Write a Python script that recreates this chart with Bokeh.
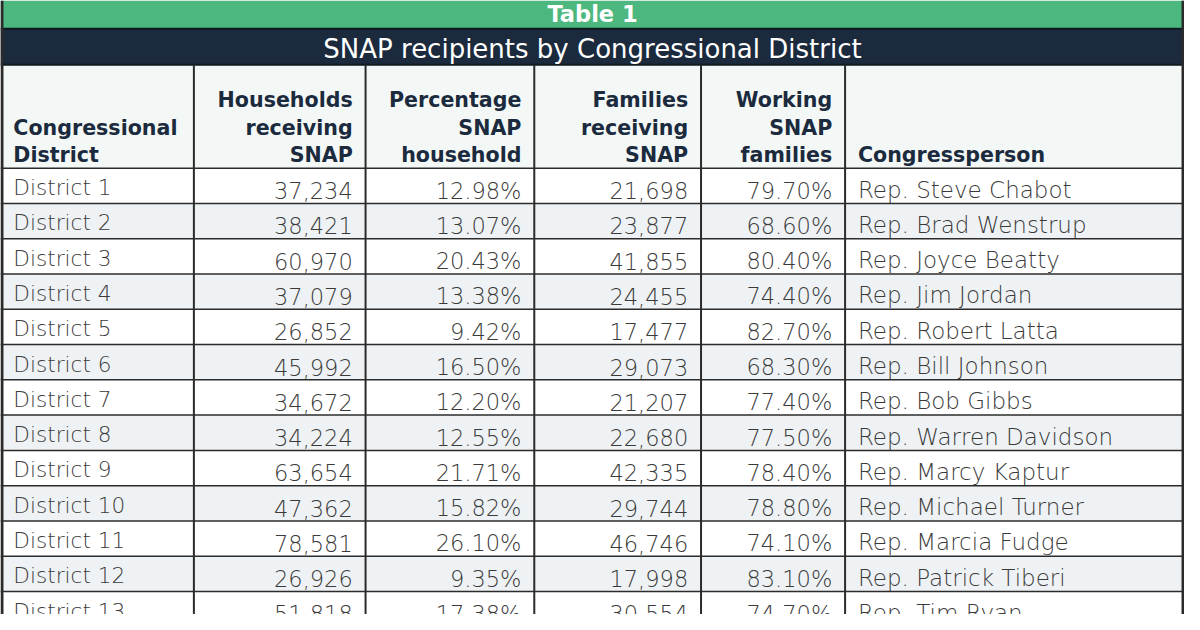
from bokeh.plotting import figure
from bokeh.models import Range1d, ColumnDataSource
from bokeh.core.properties import value
from bokeh.embed import file_html
from bokeh.resources import INLINE

# ---------------- data ----------------
title_top = "Table 1"
title_sub = "SNAP recipients by Congressional District"

headers = [
    ["Congressional", "District"],
    ["Households", "receiving", "SNAP"],
    ["Percentage", "SNAP", "household"],
    ["Families", "receiving", "SNAP"],
    ["Working", "SNAP", "families"],
    ["Congressperson"],
]

districts = ["District 1", "District 2", "District 3", "District 4", "District 5",
             "District 6", "District 7", "District 8", "District 9", "District 10",
             "District 11", "District 12", "District 13"]
households = [37234, 38421, 60970, 37079, 26852, 45992, 34672, 34224, 63654,
              47362, 78581, 26926, 51818]
pct_households = [12.98, 13.07, 20.43, 13.38, 9.42, 16.50, 12.20, 12.55, 21.71,
                  15.82, 26.10, 9.35, 17.38]
families = [21698, 23877, 41855, 24455, 17477, 29073, 21207, 22680, 42335,
            29744, 46746, 17998, 30554]
working_pct = [79.70, 68.60, 80.40, 74.40, 82.70, 68.30, 77.40, 77.50, 78.40,
               78.80, 74.10, 83.10, 74.70]
reps = ["Rep. Steve Chabot", "Rep. Brad Wenstrup", "Rep. Joyce Beatty",
        "Rep. Jim Jordan", "Rep. Robert Latta", "Rep. Bill Johnson",
        "Rep. Bob Gibbs", "Rep. Warren Davidson", "Rep. Marcy Kaptur",
        "Rep. Michael Turner", "Rep. Marcia Fudge", "Rep. Patrick Tiberi",
        "Rep. Tim Ryan"]

# ---------------- layout / style ----------------
W, H = 1200, 630
col_edges = [0, 196, 370, 541, 710, 856, 1200]
col_align = ["left", "right", "right", "right", "right", "left"]
pad = 13
green_top, green_bot = 0, 29
navy_bot = 66
head_bot = 172
row_h = 36.2

GREEN = "#4cb87f"
NAVY = "#1b2a3d"
HEAD_BG = "#f3f8f7"
ALT_BG = "#eff2f4"
LINE = "#2b2b2b"
TXT = "#3a3a3a"

S = 0.98  # page scale (figure 1184x614 shows the 1200x630 layout)
HFONT = value("DejaVu Sans")
DFONT = value("DejaVu Sans Light, DejaVu Sans ExtraLight, DejaVu Sans")


def fs(px):
    return f"{px * S:.1f}px"


p = figure(width=1184, height=614, output_backend="svg", toolbar_location=None,
           x_range=Range1d(0, W), y_range=Range1d(H, 0),
           min_border=0)
p.outline_line_color = None
p.axis.visible = False
p.grid.visible = False
p.background_fill_color = "white"
p.border_fill_color = "white"

n = len(districts)
row_tops = [head_bot + i * row_h for i in range(n)]

# bands
p.quad(left=[0], right=[W], top=[green_top], bottom=[green_bot], fill_color=GREEN, line_color=None)
p.quad(left=[0], right=[W], top=[green_bot], bottom=[navy_bot], fill_color=NAVY, line_color=None)
p.quad(left=[0], right=[W], top=[navy_bot], bottom=[head_bot], fill_color=HEAD_BG, line_color=None)

# row backgrounds
bg = ["white" if i % 2 == 0 else ALT_BG for i in range(n)]
p.quad(left=[0] * n, right=[W] * n, top=row_tops, bottom=[t + row_h for t in row_tops],
       fill_color=bg, line_color=None)

# band separator lines
p.segment(x0=[0, 0], x1=[W, W], y0=[green_bot, navy_bot], y1=[green_bot, navy_bot],
          line_color="#0e1a1e", line_width=2)

# horizontal row lines
ys = [head_bot] + [t + row_h for t in row_tops]
p.segment(x0=[0] * len(ys), x1=[W] * len(ys), y0=ys, y1=ys, line_color=LINE, line_width=1.5)

# vertical column lines
xs = col_edges[1:-1]
p.segment(x0=xs, x1=xs, y0=[navy_bot] * len(xs), y1=[H + 20] * len(xs),
          line_color=LINE, line_width=2)
p.segment(x0=[1.5, W - 1.5], x1=[1.5, W - 1.5], y0=[0, 0], y1=[H + 20, H + 20],
          line_color=LINE, line_width=3)


def mid(baseline, size):
    # vertical middle of capitals for a given alphabetic baseline
    return baseline - 0.36 * size


# titles
p.text(x=[W / 2], y=[mid(22, 22)], text=[title_top], text_align="center", text_baseline="middle",
       text_font=HFONT, text_font_style="bold", text_font_size=fs(23), text_color="white")
p.text(x=[W / 2], y=[mid(57, 21)], text=[title_sub], text_align="center", text_baseline="middle",
       text_font=HFONT, text_font_size=fs(26.5), text_color="white")

# header texts
hx, hy, ht, ha = [], [], [], []
for c, lines in enumerate(headers):
    x = col_edges[c] + pad if col_align[c] == "left" else col_edges[c + 1] - pad
    for k, line in enumerate(reversed(lines)):
        hx.append(x)
        hy.append(mid(166 - 28 * k, 21))
        ht.append(line)
        ha.append(col_align[c])
p.text(x="x", y="y", text="t", text_align="a",
       source=ColumnDataSource(dict(x=hx, y=hy, t=ht, a=ha)),
       text_baseline="middle", text_font=HFONT, text_font_style="bold",
       text_font_size=fs(21), text_color=NAVY)

# data cells
cols = [
    districts,
    [f"{v:,}" for v in households],
    [f"{v:.2f}%" for v in pct_households],
    [f"{v:,}" for v in families],
    [f"{v:.2f}%" for v in working_pct],
    reps,
]
base_off = [28, 31, 31, 31, 31, 30]
for c, vals in enumerate(cols):
    x = col_edges[c] + pad if col_align[c] == "left" else col_edges[c + 1] - pad
    size = 22 if c == 0 else (23.5 if c == 5 else 23)
    src = ColumnDataSource(dict(
        x=[x] * len(vals),
        y=[mid(row_tops[i] + base_off[c], 22) for i in range(len(vals))],
        t=list(vals)))
    p.text(x="x", y="y", text="t", source=src, text_align=col_align[c],
           text_baseline="middle", text_font=DFONT,
           text_font_size=fs(size), text_color=TXT)

open("out.html", "w").write(file_html(p, INLINE))
